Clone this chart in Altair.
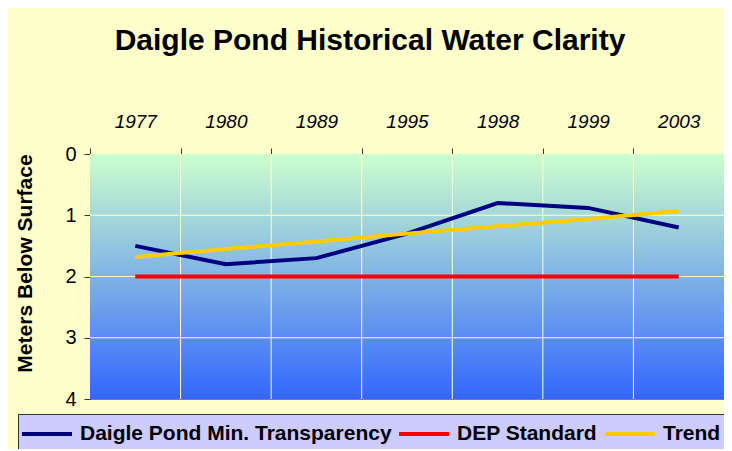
import altair as alt
import pandas as pd

years = ["1977", "1980", "1989", "1995", "1998", "1999", "2003"]
min_transparency = [1.5, 1.8, 1.7, 1.3, 0.8, 0.88, 1.2]
dep_standard = [2, 2, 2, 2, 2, 2, 2]
trend = [1.68, 1.55, 1.43, 1.30, 1.18, 1.06, 0.93]
y_ticks = [0, 1, 2, 3, 4]
series_names = ["Daigle Pond Min. Transparency", "DEP Standard", "Trend"]
series_colors = ["#000080", "#FF0000", "#FFCC00"]

rows = []
for i, yr in enumerate(years):
    rows.append({"year": yr, "series": series_names[0], "value": min_transparency[i]})
    rows.append({"year": yr, "series": series_names[1], "value": dep_standard[i]})
    rows.append({"year": yr, "series": series_names[2], "value": trend[i]})
df = pd.DataFrame(rows)

FONT = "Liberation Sans"

xscale = alt.Scale(domain=years, paddingInner=0, paddingOuter=0)
yscale = alt.Scale(domain=[0, 4], reverse=True, nice=False)

bg = alt.Chart(pd.DataFrame({"a": [0]})).mark_rect(
    fill=alt.Gradient(
        gradient="linear",
        stops=[alt.GradientStop(color="#CCFFCC", offset=0),
               alt.GradientStop(color="#3366FF", offset=1)],
        x1=0, x2=0, y1=0, y2=1,
    )
).encode(
    y=alt.Y(datum=0, scale=yscale, type="quantitative"),
    y2=alt.Y2(datum=4),
)

hgrid = alt.Chart(pd.DataFrame({"v": [1, 2, 3]})).mark_rule(
    color="#FFFFCC", strokeWidth=1
).encode(y=alt.Y("v:Q", scale=yscale))

vgrid = alt.Chart(pd.DataFrame({"year": years[1:]})).mark_rule(
    color="#FFFFCC", strokeWidth=1
).encode(x=alt.X("year:O", scale=xscale, bandPosition=0))

lines = alt.Chart(df).mark_line(strokeWidth=4).encode(
    x=alt.X(
        "year:O",
        scale=xscale,
        sort=years,
        axis=alt.Axis(
            orient="top", title=None, labelAngle=0, labelAlign="center",
            labelFont=FONT, labelFontSize=19, labelFontStyle="italic",
            labelColor="black", tickBand="extent", tickSize=6,
            tickColor="#333333", domainColor="#333333", labelPadding=27,
            grid=False,
        ),
    ),
    y=alt.Y(
        "value:Q",
        scale=yscale,
        axis=alt.Axis(
            values=y_ticks, format="d", title="Meters Below Surface",
            titleFont=FONT, titleFontSize=21, titleFontWeight="bold",
            titleColor="black", titleX=-55, titleY=109, labelFont=FONT,
            labelFontSize=20, labelColor="black", tickSize=6,
            tickColor="#333333", domainColor="#333333", labelPadding=8,
            grid=False,
        ),
    ),
    color=alt.Color(
        "series:N",
        scale=alt.Scale(domain=series_names, range=series_colors),
        sort=series_names,
        legend=alt.Legend(
            title=None, orient="none", legendX=-72, legendY=260,
            direction="horizontal", fillColor="#CCCCFF",
            strokeColor="#333333", padding=8, symbolType="M-2.5,0H2.5",
            symbolSize=400, symbolStrokeWidth=4, symbolOffset=9,
            labelFont=FONT, labelFontSize=21, labelFontWeight="bold",
            labelColor="black", labelOffset=21, columnPadding=-1,
            labelLimit=400,
        ),
    ),
)

chart = alt.layer(bg, hgrid, vgrid, lines).properties(
    width=634,
    height=245,
    autosize=alt.AutoSizeParams(type="none"),
    padding={"left": 82, "top": 146, "right": 0, "bottom": 50},
    background="#FFFFCC",
    title=alt.TitleParams(
        "Daigle Pond Historical Water Clarity", font=FONT, fontSize=30,
        fontWeight="bold", color="black", anchor="middle", dx=-37, offset=56,
    ),
).configure_view(stroke="#808080", strokeWidth=1)

chart.save("out.html", embed_options={"renderer": "svg", "actions": False})
